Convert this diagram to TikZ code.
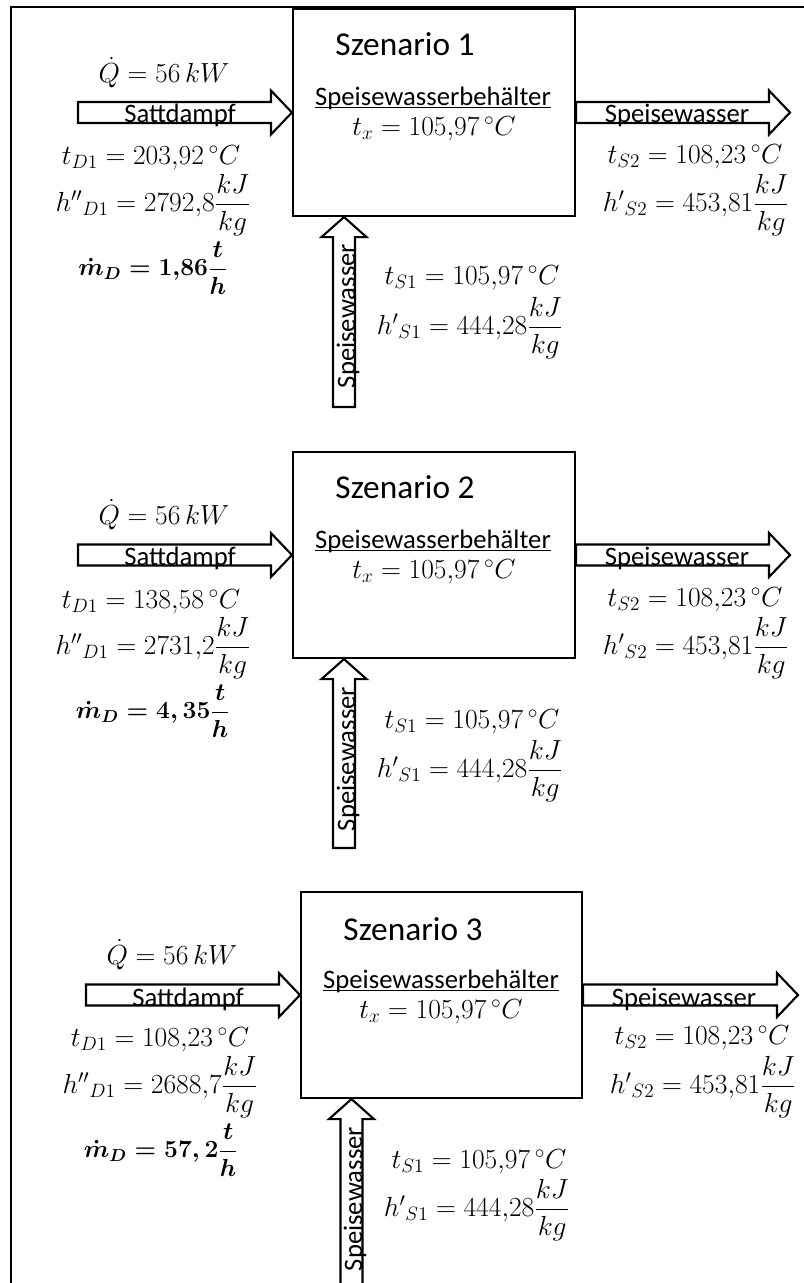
\RequirePackage{fix-cm}
\documentclass[tikz,border=0pt]{standalone}
\usepackage{amsmath}
\usepackage{fontspec}
\setmainfont{Carlito}
\usetikzlibrary{calc}
\tikzset{
  blk/.style={draw=black, line width=1.6pt, fill=white},
  tank/.style={draw=black, line width=1.6pt, inner sep=0pt, fill=white},
  txt/.style={font=\fontsize{20}{24}\selectfont, inner sep=0pt},
  ttl/.style={font=\fontsize{25}{30}\selectfont, inner sep=0pt},
  mth/.style={font=\fontsize{20.7}{24}\selectfont, inner sep=0pt},
  mthb/.style={font=\fontsize{18.5}{22}\selectfont\boldmath, inner sep=0pt},
  uline/.style={line width=1pt},
}
\newcommand\harr[2]{%
  \draw[blk] ($(#1)+(0,-10.5)$) -- ($(#2)+(-21,-10.5)$) -- ($(#2)+(-21,-22)$) -- (#2)
    -- ($(#2)+(-21,22)$) -- ($(#2)+(-21,10.5)$) -- ($(#1)+(0,10.5)$) -- cycle;}
\newcommand\varr[2]{%
  \draw[blk] ($(#1)+(-11,0)$) -- ($(#2)+(-11,20)$) -- ($(#2)+(-22.5,20)$) -- (#2)
    -- ($(#2)+(22.5,20)$) -- ($(#2)+(11,20)$) -- ($(#1)+(11,0)$) -- cycle;}
\newcommand\uln[1]{\draw[uline] ($(#1.base west)+(0,2.5)$) -- ($(#1.base east)+(0,2.5)$);}
\begin{document}
\begin{tikzpicture}[x=0.75pt,y=-0.75pt]
\useasboundingbox (0,0) rectangle (804,1283);
\clip (0,0) rectangle (804,1283);
\draw[line width=2pt] (804,7) -- (11,7) -- (11,1300);

% ---------- Scenario 1 ----------
\node[tank, minimum width=211.5pt, minimum height=155.25pt] (b1) at (434,112.5) {};
\coordinate (s1a) at (78,112.5);
\coordinate (s1e) at (790,112.5);
\coordinate (s1v) at (344,407);
\coordinate (s1t) at (b1.south -| s1v);
\harr{s1a}{b1.west}
\harr{b1.east}{s1e}
\varr{s1v}{s1t}
\node[ttl, anchor=base] (t1) at (405,55) {Szenario 1};
\node[txt, anchor=base] (u1) at (433,105) {Speisewasserbehälter};
\uln{u1}
\node[mth] (x1) at (434,129) {$t_x = 105{,}97\,{}^{\circ}C$};
\node[txt, anchor=base] (l1a) at (180,122) {Sattdampf};
\node[txt, anchor=base] (l1b) at (677,122) {Speisewasser};
\node[txt, anchor=base, rotate=90] (l1c) at (355,316) {Speisewasser};
\node[mth] (q1) at (164,73) {$\dot Q = 56\,kW$};
\node[mth] (d1a) at (151,158) {$t_{D1} = 203{,}92\,{}^{\circ}C$};
\node[mth] (d1b) at (153,205) {${h''}_{D1} = 2792{,}8\dfrac{kJ}{kg}$};
\node[mthb] (d1c) at (153,268) {$\dot m_D = 1{,}86\dfrac{t}{h}$};
\node[mth] (e1a) at (695,157) {$t_{S2} = 108{,}23\,{}^{\circ}C$};
\node[mth] (e1b) at (696,205) {${h'}_{S2} = 453{,}81\dfrac{kJ}{kg}$};
\node[mth] (f1a) at (472,278) {$t_{S1} = 105{,}97\,{}^{\circ}C$};
\node[mth] (f1b) at (470,328) {${h'}_{S1} = 444{,}28\dfrac{kJ}{kg}$};

% ---------- Scenario 2 ----------
\node[tank, minimum width=211.5pt, minimum height=154.5pt] (b2) at (434,555) {};
\coordinate (s2a) at (78,555);
\coordinate (s2e) at (790,555);
\coordinate (s2v) at (344,848);
\coordinate (s2t) at (b2.south -| s2v);
\harr{s2a}{b2.west}
\harr{b2.east}{s2e}
\varr{s2v}{s2t}
\node[ttl, anchor=base] (t2) at (405,498) {Szenario 2};
\node[txt, anchor=base] (u2) at (433,548) {Speisewasserbehälter};
\uln{u2}
\node[mth] (x2) at (434,572) {$t_x = 105{,}97\,{}^{\circ}C$};
\node[txt, anchor=base] (l2a) at (180,565) {Sattdampf};
\node[txt, anchor=base] (l2b) at (677,565) {Speisewasser};
\node[txt, anchor=base, rotate=90] (l2c) at (355,759) {Speisewasser};
\node[mth] (q2) at (164,515) {$\dot Q = 56\,kW$};
\node[mth] (d2a) at (151,602) {$t_{D1} = 138{,}58\,{}^{\circ}C$};
\node[mth] (d2b) at (153,648) {${h''}_{D1} = 2731{,}2\dfrac{kJ}{kg}$};
\node[mthb] (d2c) at (153,711) {$\dot m_D = 4,35\dfrac{t}{h}$};
\node[mth] (e2a) at (695,600) {$t_{S2} = 108{,}23\,{}^{\circ}C$};
\node[mth] (e2b) at (696,648) {${h'}_{S2} = 453{,}81\dfrac{kJ}{kg}$};
\node[mth] (f2a) at (472,722) {$t_{S1} = 105{,}97\,{}^{\circ}C$};
\node[mth] (f2b) at (470,771) {${h'}_{S1} = 444{,}28\dfrac{kJ}{kg}$};

% ---------- Scenario 3 ----------
\node[tank, minimum width=210.75pt, minimum height=154.5pt] (b3) at (441.5,995) {};
\coordinate (s3a) at (86,995);
\coordinate (s3e) at (798,995);
\coordinate (s3v) at (351.5,1300);
\coordinate (s3t) at (b3.south -| s3v);
\harr{s3a}{b3.west}
\harr{b3.east}{s3e}
\varr{s3v}{s3t}
\node[ttl, anchor=base] (t3) at (413,940) {Szenario 3};
\node[txt, anchor=base] (u3) at (441,988) {Speisewasserbehälter};
\uln{u3}
\node[mth] (x3) at (441,1012) {$t_x = 105{,}97\,{}^{\circ}C$};
\node[txt, anchor=base] (l3a) at (188,1006) {Sattdampf};
\node[txt, anchor=base] (l3b) at (684,1006) {Speisewasser};
\node[txt, anchor=base, rotate=90] (l3c) at (362,1199) {Speisewasser};
\node[mth] (q3) at (172,955) {$\dot Q = 56\,kW$};
\node[mth] (d3a) at (160,1040) {$t_{D1} = 108{,}23\,{}^{\circ}C$};
\node[mth] (d3b) at (160,1087) {${h''}_{D1} = 2688{,}7\dfrac{kJ}{kg}$};
\node[mthb] (d3c) at (161,1150) {$\dot m_D = 57,2\dfrac{t}{h}$};
\node[mth] (e3a) at (702,1038) {$t_{S2} = 108{,}23\,{}^{\circ}C$};
\node[mth] (e3b) at (703,1087) {${h'}_{S2} = 453{,}81\dfrac{kJ}{kg}$};
\node[mth] (f3a) at (479,1162) {$t_{S1} = 105{,}97\,{}^{\circ}C$};
\node[mth] (f3b) at (477,1210) {${h'}_{S1} = 444{,}28\dfrac{kJ}{kg}$};
\end{tikzpicture}
\end{document}
